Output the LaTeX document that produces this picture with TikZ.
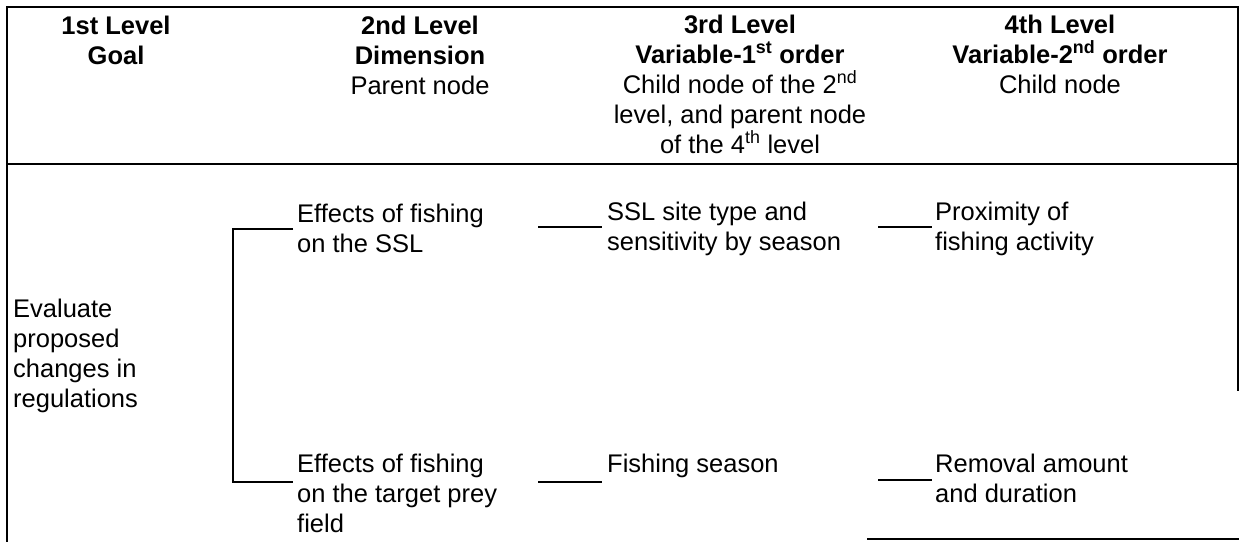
\documentclass[tikz,border=0pt]{standalone}
\usepackage{fontspec}
\setmainfont{Liberation Sans}
\newcommand{\bodyfont}{\fontsize{25.5}{30}\selectfont}
\begin{document}
\begin{tikzpicture}[x=1pt,y=-1pt,
  rule/.style={line width=1.8pt, line cap=rect},
  link/.style={line width=1.8pt},
  head/.style={inner sep=0pt, anchor=base, font=\bodyfont},
  txt/.style={inner sep=0pt, anchor=base west, font=\bodyfont}]
\useasboundingbox (0,0) rectangle (1242,541);
% table frame
\coordinate (tl) at (7,7);
\coordinate (tr) at (1238,7);
\coordinate (bl) at (7,541);
\coordinate (rb) at (1238,390);
\coordinate (hl) at (7,164);
\coordinate (hr) at (1238,164);
\coordinate (fl) at (868,539);
\coordinate (fr) at (1238,539);
\draw[rule] (bl) -- (tl) -- (tr) -- (rb);
\draw[rule] (hl) -- (hr);
\draw[rule] (fl) -- (fr);
% header
\node[head] (h1) at (116,34) {\parbox[t]{240pt}{\centering\bfseries 1st Level\\Goal}};
\node[head] (h2) at (420,34) {\parbox[t]{300pt}{\centering{\bfseries 2nd Level\\Dimension\\}Parent node}};
\node[head] (h3) at (740,33) {\parbox[t]{300pt}{\centering{\bfseries 3rd Level\\Variable-1\textsuperscript{st} order\\}Child node of the 2\textsuperscript{nd}\\level, and parent node\\of the 4\textsuperscript{th} level}};
\node[head] (h4) at (1060,33) {\parbox[t]{300pt}{\centering{\bfseries 4th Level\\Variable-2\textsuperscript{nd} order\\}Child node}};
% body
\node[txt] (g) at (13,317) {\parbox[t]{200pt}{\raggedright Evaluate\\proposed\\changes in\\regulations}};
\node[txt] (d1) at (297,222) {\parbox[t]{230pt}{\raggedright Effects of fishing\\on the SSL}};
\node[txt] (d2) at (297,472) {\parbox[t]{230pt}{\raggedright Effects of fishing\\on the target prey\\field}};
\node[txt] (v1) at (607,220) {\parbox[t]{260pt}{\raggedright SSL site type and\\sensitivity by season}};
\node[txt] (v2) at (607,472) {\parbox[t]{260pt}{\raggedright Fishing season}};
\node[txt] (w1) at (935,220) {\parbox[t]{290pt}{\raggedright Proximity of\\fishing activity}};
\node[txt] (w2) at (935,472) {\parbox[t]{290pt}{\raggedright Removal amount\\and duration}};
% connectors
\coordinate (bt) at (233,229);
\coordinate (bb) at (233,482);
\draw[link] ([shift={(-4,7)}]d1.base west) -- (bt) -- (bb) -- ([shift={(-4,10)}]d2.base west);
\coordinate (v1s) at (538,227);
\draw[link] (v1s) -- ([shift={(-5,7)}]v1.base west);
\coordinate (v2s) at (538,482);
\draw[link] (v2s) -- ([shift={(-5,10)}]v2.base west);
\coordinate (w1s) at (878,227);
\draw[link] (w1s) -- ([shift={(-3,7)}]w1.base west);
\coordinate (w2s) at (878,480);
\draw[link] (w2s) -- ([shift={(-3,8)}]w2.base west);
\end{tikzpicture}
\end{document}
